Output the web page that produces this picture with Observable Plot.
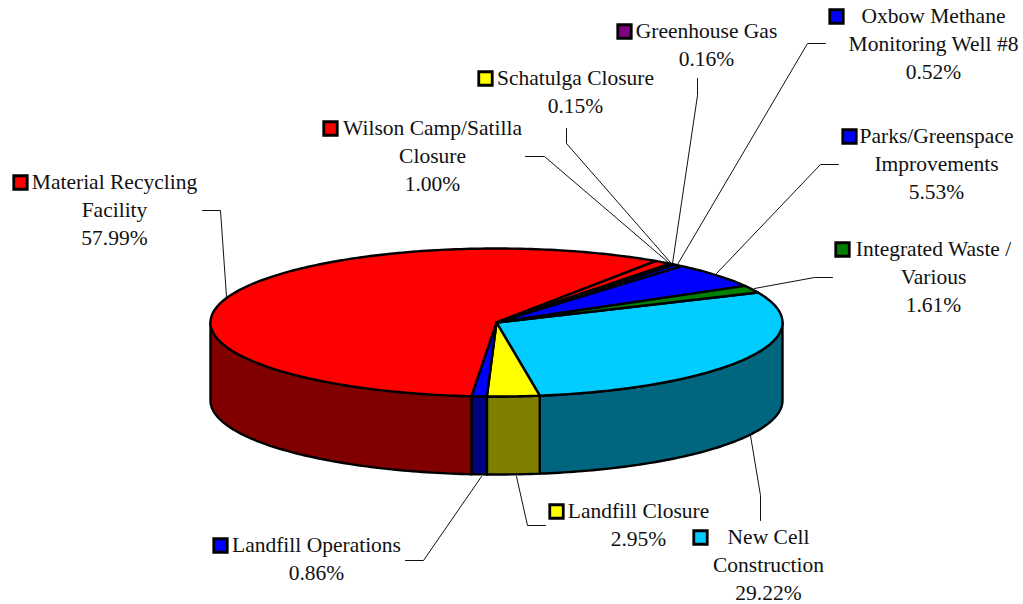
<!DOCTYPE html>
<html><head><meta charset="utf-8">
<script src="https://cdn.jsdelivr.net/npm/d3@7"></script>
<script src="https://cdn.jsdelivr.net/npm/@observablehq/plot@0.6"></script>
<style>html,body{margin:0;padding:0;background:#fff}svg{display:block}</style>
</head><body><div id="chart"></div>
<script>
const names = ["New Cell Construction","Landfill Closure","Landfill Operations","Material Recycling Facility","Wilson Camp/Satilla Closure","Schatulga Closure","Greenhouse Gas","Oxbow Methane Monitoring Well #8","Parks/Greenspace Improvements","Integrated Waste / Various"];
const values = [29.22,2.95,0.86,57.99,1.00,0.15,0.16,0.52,5.53,1.61];
const topColors = ["#00CCFF","#FFFF00","#0000FF","#FF0000","#FF0000","#FFFF00","#800080","#0000FF","#0000FF","#008000"];
const sideColors = ["#006680","#808000","#000080","#800000","#800000","#808000","#400040","#000080","#000080","#004000"];
const labelLines = ["New Cell\nConstruction\n29.22%","Landfill Closure\n2.95%","Landfill Operations\n0.86%","Material Recycling\nFacility\n57.99%","Wilson Camp/Satilla\nClosure\n1.00%","Schatulga Closure\n0.15%","Greenhouse Gas\n0.16%","Oxbow Methane\nMonitoring Well #8\n0.52%","Parks/Greenspace\nImprovements\n5.53%","Integrated Waste /\nVarious\n1.61%"];
// label layout: [text centre x, first-line centre y, swatch x]
const labelPos = [[768,537,700],[638,511,556],[316,545,220],[114,182,20],[432,128,330],[575,78,485],[706,31,624],[933,16,836],[936,136,849],[933,249,842]];
const leaders = [
  [[750,435],[760,495],[760,520]],
  [[516,476],[527,525],[545,525]],
  [[481,476],[423,560],[405,560]],
  [[226,296],[220,210],[202,210]],
  [[668,262],[544,156],[525,156]],
  [[670,262],[566,143],[566,128]],
  [[672,263],[697,95],[697,78]],
  [[677,264],[807,43],[825,43]],
  [[716,273],[820,164],[838,164]],
  [[754,288],[814,277],[832,277]]
];
const cx = 496, cy = 322, rx = 286, ry = 74, depth = 78, startDeg = 66.1;
const rad = Math.PI/180;
const arcs = d3.pie().sort(null).startAngle(startDeg*rad).endAngle(startDeg*rad+2*Math.PI)(values);
const pt = (a, dy=0) => ({x: cx + rx*Math.sin(a), y: cy - ry*Math.cos(a) + dy});
const sweep = (a0, a1) => {
  const n = Math.max(2, Math.ceil(Math.abs(a1-a0)/(1*rad)));
  return d3.range(n+1).map(i => a0 + (a1-a0)*i/n);
};
const topRows = [], sideRows = [];
arcs.forEach((d,i) => {
  const top = [{x:cx,y:cy}, ...sweep(d.startAngle,d.endAngle).map(a=>pt(a)), {x:cx,y:cy}];
  top.forEach(p => topRows.push({...p, k:names[i], fill:topColors[i]}));
  // the front wall is visible between 90 and 270 degrees
  const a0 = Math.max(d.startAngle, Math.PI/2), a1 = Math.min(d.endAngle, 1.5*Math.PI);
  if (a1 > a0) {
    const s = sweep(a0,a1);
    const wall = [...s.map(a=>pt(a)), ...s.slice().reverse().map(a=>pt(a,depth))];
    wall.push(wall[0]);
    wall.forEach(p => sideRows.push({...p, k:names[i], fill:sideColors[i]}));
  }
});
const leaderRows = leaders.flatMap((l,i) => l.map(([x,y]) => ({x,y,k:names[i]})));
const labels = names.map((n,i) => ({text:labelLines[i], x:labelPos[i][0], y:labelPos[i][1], sx:labelPos[i][2], fill:topColors[i]}));
const plot = Plot.plot({
  width:1023, height:604, margin:0,
  x:{domain:[0,1023], range:[0,1023], axis:null},
  y:{domain:[0,604], range:[0,604], axis:null},
  style:{background:"#fff"},
  marks:[
    Plot.line(leaderRows,{x:"x",y:"y",z:"k",stroke:"#111",strokeWidth:1}),
    Plot.line(sideRows,{x:"x",y:"y",z:"k",fill:"fill",stroke:"#000",strokeWidth:2.4,strokeLinejoin:"round"}),
    Plot.line(topRows,{x:"x",y:"y",z:"k",fill:"fill",stroke:"#000",strokeWidth:2.4,strokeLinejoin:"round"}),
    Plot.dot(labels,{x:"sx",y:"y",symbol:"square",r:7.6,fill:"fill",stroke:"#000",strokeWidth:2.8}),
    Plot.text(labels,{x:"x",y:"y",text:"text",textAnchor:"middle",lineAnchor:"top",dy:-13.5,lineHeight:1.3,fontSize:21.5,fontFamily:"Liberation Serif",fill:"#111"})
  ]
});
document.getElementById("chart").append(plot);
</script></body></html>
